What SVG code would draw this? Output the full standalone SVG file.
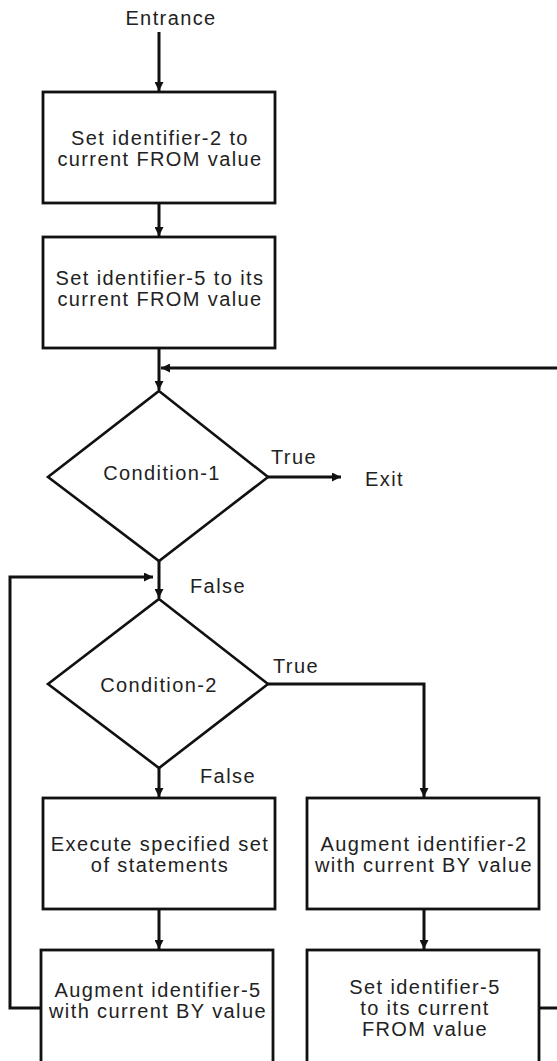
<svg xmlns="http://www.w3.org/2000/svg" width="557" height="1061" viewBox="0 0 557 1061">
<style>
.box{fill:#fff;stroke:#111;stroke-width:2.8}
.dia{fill:#fff;stroke:#111;stroke-width:2.6}
.con{fill:none;stroke:#111;stroke-width:3}
text{font-family:"Liberation Sans",Arial,sans-serif;font-size:20px;fill:#222;letter-spacing:1.4px}
.c{text-anchor:middle}
</style>
<defs>
<marker id="ah" viewBox="0 0 9 9" refX="9" refY="4.5" markerWidth="9" markerHeight="9" markerUnits="userSpaceOnUse" orient="auto">
<path d="M0,0 L9,4.5 L0,9 z" fill="#111"/>
</marker>
</defs>
<rect width="557" height="1061" fill="#fff"/>
<g id="connectors">
<line class="con" x1="159" y1="32" x2="159" y2="91" marker-end="url(#ah)"/>
<line class="con" x1="159" y1="203" x2="159" y2="236" marker-end="url(#ah)"/>
<line class="con" x1="159" y1="348" x2="159" y2="390" marker-end="url(#ah)"/>
<line class="con" x1="557" y1="368" x2="161" y2="368" marker-end="url(#ah)"/>
<line class="con" x1="268" y1="477" x2="341" y2="477" marker-end="url(#ah)"/>
<line class="con" x1="159" y1="561" x2="159" y2="598" marker-end="url(#ah)"/>
<path class="con" d="M41,1008 H10 V577 H153" marker-end="url(#ah)"/>
<path class="con" d="M268,684 H424 V797" marker-end="url(#ah)"/>
<line class="con" x1="159" y1="768" x2="159" y2="797" marker-end="url(#ah)"/>
<line class="con" x1="159" y1="909" x2="159" y2="949" marker-end="url(#ah)"/>
<line class="con" x1="424" y1="909" x2="424" y2="949" marker-end="url(#ah)"/>
<line class="con" x1="539" y1="1008" x2="557" y2="1008"/>
</g>
<g id="entrance"><text class="c" x="171" y="25">Entrance</text></g>
<g id="box1">
<rect class="box" x="43" y="92" width="232" height="111"/>
<text class="c" x="160" y="145">Set identifier-2 to</text>
<text class="c" x="160" y="166">current FROM value</text>
</g>
<g id="box2">
<rect class="box" x="43" y="237" width="232" height="111"/>
<text class="c" x="160" y="285">Set identifier-5 to its</text>
<text class="c" x="160" y="306">current FROM value</text>
</g>
<g id="cond1">
<polygon class="dia" points="159,391 268,477 159,561 48,477"/>
<text class="c" x="162" y="480">Condition-1</text>
</g>
<g id="labels1">
<text x="271" y="464">True</text>
<text x="365" y="486">Exit</text>
<text x="190" y="593">False</text>
</g>
<g id="cond2">
<polygon class="dia" points="159,599 268,684 159,768 48,684"/>
<text class="c" x="159" y="692">Condition-2</text>
</g>
<g id="labels2">
<text x="273" y="673">True</text>
<text x="200" y="783">False</text>
</g>
<g id="box3">
<rect class="box" x="43" y="798" width="232" height="111"/>
<text class="c" x="160" y="851">Execute specified set</text>
<text class="c" x="160" y="872">of statements</text>
</g>
<g id="box4">
<rect class="box" x="41" y="950" width="232" height="116"/>
<text class="c" x="158" y="997">Augment identifier-5</text>
<text class="c" x="158" y="1018">with current BY value</text>
</g>
<g id="box5">
<rect class="box" x="307" y="798" width="232" height="111"/>
<text class="c" x="424" y="851">Augment identifier-2</text>
<text class="c" x="424" y="872">with current BY value</text>
</g>
<g id="box6">
<rect class="box" x="307" y="950" width="232" height="116"/>
<text class="c" x="425" y="994">Set identifier-5</text>
<text class="c" x="425" y="1015">to its current</text>
<text class="c" x="425" y="1036">FROM value</text>
</g>
</svg>
